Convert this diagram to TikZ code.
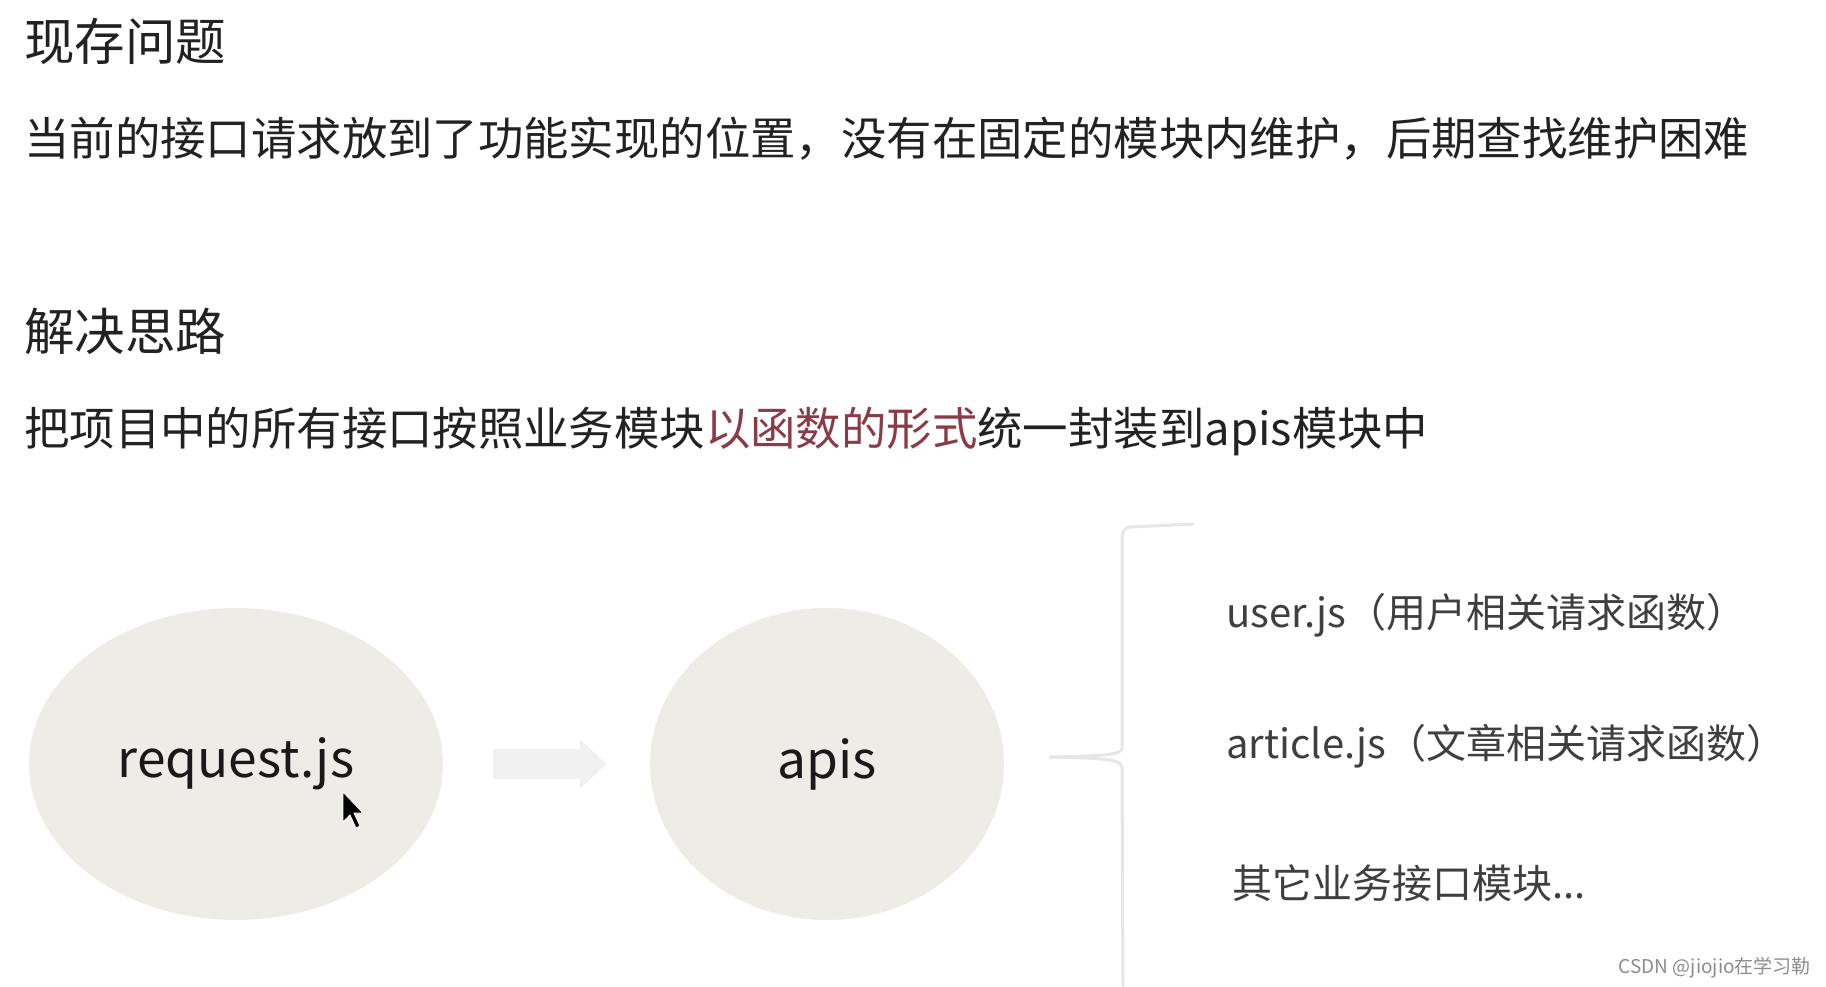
\documentclass[tikz,border=0pt]{standalone}
\usepackage{fontspec}
\setmainfont{Noto Sans CJK SC}
\usetikzlibrary{shapes.geometric,arrows.meta}
\definecolor{txt}{HTML}{222222}
\definecolor{sub}{HTML}{3F3F3F}
\definecolor{hl}{HTML}{8B3A48}
\definecolor{ell}{HTML}{EEECE6}
\definecolor{arw}{HTML}{F0F0F0}
\definecolor{brc}{HTML}{E6E6E6}
\definecolor{wm}{HTML}{8C8C8C}
\begin{document}
\begin{tikzpicture}[x=1pt,y=-1pt,
  title/.style={anchor=base west, inner sep=0, font=\fontsize{50.5}{60}\selectfont, text=txt},
  body/.style={anchor=base west, inner sep=0, font=\fontsize{45.4}{54}\selectfont, text=txt},
  blob/.style={ellipse, fill=ell, inner sep=0, font=\fontsize{51.5}{60}\selectfont, text=black!90},
  item/.style={anchor=base west, inner sep=0, font=\fontsize{40}{48}\selectfont, text=sub},
  flow/.style={arw, line width=30pt, -{Triangle[length=27pt,width=48pt]}},
  bracket/.style={brc, line width=3pt, line join=round, line cap=round}]
\fill[white] (0,0) rectangle (1826,986);
\useasboundingbox (0,0) rectangle (1826,986);

\node[title] (t1) at (24,60) {现存问题};
\node[body] (l1) at (24,155) {当前的接口请求放到了功能实现的位置，没有在固定的模块内维护，后期查找维护困难};
\node[title] (t2) at (24,350) {解决思路};
\node[body] (l2) at (24,445) {把项目中的所有接口按照业务模块\textcolor{hl}{以函数的形式}统一封装到apis模块中};

\node[blob, minimum width=414pt, minimum height=312pt] (req) at (236,764) {request.js};
\node[blob, minimum width=354pt, minimum height=312pt] (apis) at (827,764) {apis};

\draw[flow] ([xshift=50pt]req.east) -- ([xshift=-43pt]apis.west);

\coordinate (btop) at (1193,524);
\coordinate (btip) at (1050,757);
\coordinate (bbot) at (1123,986);
\draw[bracket] (btop) -- (1130,527) .. controls (1124,528) and (1122,532) .. (1122,540)
  -- (1122,748) .. controls (1122,754) and (1110,756) .. (btip)
  .. controls (1110,758) and (1122,760) .. (1122,768) -- (bbot);

\node[item] (u) at (1226,627) {user.js（用户相关请求函数）};
\node[item] (a) at (1226,758) {article.js（文章相关请求函数）};
\node[item] (o) at (1232,898) {其它业务接口模块...};

\fill[black, draw=white, line width=0.8pt] (343,792) -- (343,822) -- (350,815) -- (356,828) -- (360,826) -- (354,813) -- (363,813) -- cycle;

\node[anchor=base east, inner sep=0, font=\fontsize{19}{22}\selectfont, text=wm] (wmk) at (1811,973) {CSDN @jiojio在学习勒};
\end{tikzpicture}
\end{document}
